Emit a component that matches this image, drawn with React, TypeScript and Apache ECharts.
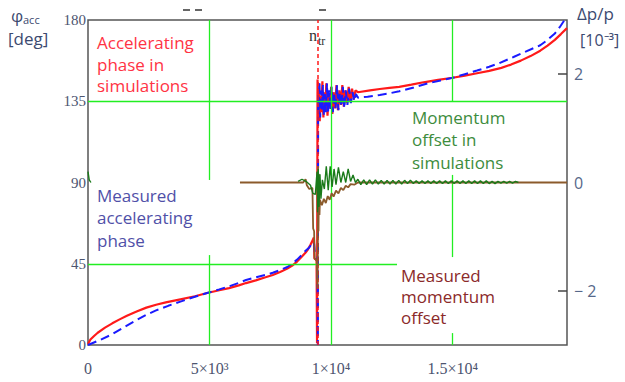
import React, { useEffect, useRef } from "react";
import * as echarts from "echarts";

// ---- data ----
const xTickValues = [0, 5000, 10000, 15000];
const xTickLabels = ["0", "5×10³", "1×10⁴", "1.5×10⁴"];
const phaseTicks = [0, 45, 90, 135, 180];
const dpTickValues = [-2, 0, 2];
const nTr = 9435;

// accelerating phase in simulations [deg]
const simPhase: any[] = [
  [0, 0.5], [100, 3], [250, 5], [400, 6.8], [700, 9.6], [1000, 12], [1300, 14.2], [1600, 16.2],
  [2000, 18.6], [2400, 20.7], [2800, 22.3], [3200, 23.6], [3800, 25.3], [4400, 27], [4900, 28.8],
  [5400, 30.3], [5800, 31.5], [6200, 33], [6500, 34.3], [6900, 35.8], [7300, 37.5], [7600, 38.8],
  [7900, 40.4], [8200, 42.3], [8400, 44], [8600, 46.2], [8800, 49], [8950, 51.2],
  [9050, 53], [9150, 55.5], [9220, 57.5], [9290, 59.5], [9310, 48], [9400, 47], [9420, 1],
  [9440, 147], [9470, 127], [9500, 142], [9530, 124], [9560, 138], [9600, 129], [9640, 146],
  [9680, 126], [9720, 140], [9760, 130], [9800, 145], [9850, 127], [9900, 139], [9950, 131],
  [10000, 143], [10050, 128], [10100, 140], [10160, 131], [10220, 144], [10280, 130], [10340, 141],
  [10400, 133], [10460, 144], [10520, 132], [10580, 141], [10650, 134], [10720, 143], [10790, 135],
  [10860, 142], [10930, 136], [11000, 141], [11100, 140],
  [11600, 141], [12000, 141.8], [12400, 142.4], [12800, 143], [13300, 144.2], [13800, 145.5],
  [14400, 146.8], [15000, 148], [15500, 149.2], [16000, 150.5], [16500, 151.8], [17000, 153.5],
  [17400, 155.3], [17800, 157.5], [18200, 160], [18600, 163], [18900, 165.8], [19200, 169],
  [19450, 172.2], [19700, 175.5],
];

// measured accelerating phase [deg]
const measPhase: any[] = [
  [0, 0], [500, 2.8], [1000, 6], [1500, 10], [2000, 13.8], [2400, 16.7], [2800, 19.2],
  [3300, 21.7], [3800, 24], [4300, 26.3], [4900, 28.8], [5400, 30.8], [5800, 32.5], [6200, 34.4],
  [6500, 36], [6900, 37.5], [7300, 38.8], [7600, 40], [7900, 41.5], [8200, 43.2], [8400, 45],
  [8600, 47.3], [8800, 50], [8950, 52.2], [9100, 54], [9250, 57], [9300, 56], [9330, 51],
  [9440, 49], [9455, 0],
  [9465, 138], [9490, 128], [9520, 146], [9550, 126], [9580, 141], [9620, 130], [9660, 144],
  [9700, 127], [9740, 139], [9780, 129], [9830, 145], [9870, 128], [9920, 141], [9970, 130],
  [10020, 143], [10070, 129], [10120, 140], [10180, 131], [10240, 144], [10300, 130], [10360, 140],
  [10420, 132], [10480, 143], [10540, 131], [10600, 141], [10670, 133], [10740, 142], [10810, 134],
  [10880, 140], [10950, 135], [11020, 139], [11100, 137],
  [11500, 137.5], [12000, 138.5], [12400, 139.4], [12800, 140.5], [13400, 142.6], [14000, 145],
  [14500, 146.5], [15000, 148], [15500, 150], [16000, 152], [16500, 154.1], [16900, 156],
  [17500, 159.5], [18000, 162.5], [18600, 166], [18900, 169], [19200, 172.5], [19400, 176],
  [19600, 180],
];

// momentum offset in simulations [1e-3]
const simOffset: any[] = [
  [0, 0.2], [50, 0.05], [120, 0], [200, "-"],
  [8640, 0.02], [8800, 0.06], [9000, 0.01], [9150, -0.05], [9250, -0.2], [9350, -0.22],
  [9420, 0.2], [9440, -0.55], [9470, 0.25], [9500, -0.45], [9540, 0.15], [9580, -0.3],
  [9640, 0.05], [9720, -0.12], [9800, 0.3], [9880, -0.14], [9960, 0.3], [10040, -0.08],
  [10120, 0.25], [10200, -0.04], [10300, 0.28], [10400, 0.0], [10500, 0.2], [10600, 0.0],
  [10700, 0.25], [10800, 0.02], [10900, 0.14], [11000, 0.0], [11100, 0.06],
  [11220, -0.04], [11340, 0.05], [11460, -0.04], [11580, 0.05], [11700, -0.03], [11820, 0.05],
  [11940, -0.03], [12060, 0.04], [12180, -0.03], [12300, 0.04], [12420, -0.03], [12540, 0.04],
  [12660, -0.03], [12780, 0.04], [12900, -0.03], [13020, 0.04], [13140, -0.02], [13260, 0.04],
  [13380, -0.02], [13500, 0.03], [13620, -0.02], [13740, 0.03], [13860, -0.02], [13980, 0.03],
  [14100, -0.02], [14220, 0.03], [14340, -0.02], [14460, 0.03], [14580, -0.02], [14700, 0.03],
  [14820, -0.02], [14940, 0.03], [15060, -0.02], [15180, 0.03], [15300, -0.02], [15420, 0.03],
  [15540, -0.02], [15660, 0.03], [15780, -0.02], [15900, 0.03], [16020, -0.02], [16140, 0.03],
  [16260, -0.02], [16380, 0.03], [16500, -0.02], [16620, 0.02], [16740, -0.02], [16860, 0.02],
  [16980, -0.01], [17100, 0.02], [17220, -0.01], [17340, 0.02], [17460, -0.01], [17580, 0.02],
  [17700, 0],
];

// measured momentum offset [1e-3]
const measOffset: any[] = [
  [6250, 0], [8850, 0], [8950, 0.06], [9000, -0.05], [9100, -0.12], [9230, -0.1], [9260, -0.85],
  [9300, -0.9], [9320, -1.4], [9410, -1.45], [9440, -1.95], [9460, 0.3], [9480, -0.9], [9500, 0.15],
  [9520, -0.6], [9540, -0.32], [9620, -0.42], [9700, -0.3], [9780, -0.38], [9860, -0.25],
  [9940, -0.32], [10020, -0.2], [10100, -0.26], [10200, -0.15], [10300, -0.2], [10400, -0.1],
  [10500, -0.14], [10600, -0.06], [10700, -0.09], [10800, -0.03], [10950, -0.04], [11100, 0],
  [19700, 0],
];

// green grid segments [[x1,y1],[x2,y2]] in (x, phase) coordinates
const gridSegments = [
  [[0, 135], [19700, 135]],
  [[0, 45], [12709, 45]],
  [[5000, 180], [5000, 91.4]],
  [[5000, 49.8], [5000, 0]],
  [[10000, 180], [10000, 0]],
  [[15000, 180], [15000, 135]],
  [[15000, 94.2], [15000, 48.7]],
  [[15000, 6.6], [15000, 0]],
];

const SANS = "'Open Sans', 'Liberation Sans', Arial, sans-serif";
const SERIF = "'Liberation Serif', 'DejaVu Serif', 'Times New Roman', serif";

function txt(x: number, y: number, text: string, fill: string, size: number, family: string, lh?: number) {
  return {
    type: "text",
    x,
    y,
    z: 10,
    silent: true,
    style: {
      text,
      fill,
      fontSize: size,
      fontFamily: family,
      lineHeight: lh || size + 2,
      verticalAlign: "top",
      align: "left",
    },
  };
}

export default function App() {
  const ref = useRef<HTMLDivElement>(null);
  useEffect(() => {
    if (!ref.current) return;
    const chart = echarts.init(ref.current, null, { renderer: "svg" });
    const option: any = {
      animation: false,
      backgroundColor: "#ffffff",
      grid: {
        left: 88,
        right: 58,
        top: 20,
        bottom: 37,
        show: true,
        borderColor: "#555555",
        borderWidth: 1.5,
        backgroundColor: "transparent",
      },
      xAxis: {
        type: "value",
        min: 0,
        max: 19700,
        axisLine: { show: false },
        axisTick: { show: false },
        splitLine: { show: false },
        axisLabel: {
          customValues: xTickValues,
          showMinLabel: true,
          showMaxLabel: true,
          margin: 15,
          color: "#4d5570",
          fontSize: 16,
          fontFamily: SERIF,
          formatter: (v: number) => {
            const i = xTickValues.indexOf(v);
            return i >= 0 ? xTickLabels[i] : "";
          },
        },
      },
      yAxis: [
        {
          type: "value",
          min: 0,
          max: 180,
          interval: 45,
          position: "left",
          axisLine: { show: false },
          axisTick: { show: false },
          splitLine: { show: false },
          axisLabel: {
            customValues: phaseTicks,
            margin: 2,
            color: "#4d5570",
            fontSize: 15,
            fontFamily: SERIF,
          },
        },
        {
          type: "value",
          min: -3,
          max: 3,
          position: "right",
          axisLine: { show: false },
          axisTick: {
            show: true,
            inside: true,
            length: 9,
            customValues: [-2, 2],
            lineStyle: { color: "#444", width: 1.5 },
          },
          splitLine: { show: false },
          axisLabel: {
            customValues: dpTickValues,
            margin: 7,
            color: "#56688a",
            fontSize: 16,
            fontFamily: SANS,
            formatter: (v: number) => (v < 0 ? "− " + Math.abs(v) : String(v)),
          },
        },
      ],
      series: [
        {
          name: "grid",
          type: "line",
          z: 1,
          data: [[0, "-"]],
          symbol: "none",
          silent: true,
          markLine: {
            silent: true,
            symbol: ["none", "none"],
            label: { show: false },
            lineStyle: { color: "#22ee22", width: 1.3, type: "solid" },
            data: gridSegments.map((s) => [{ coord: s[0] }, { coord: s[1] }]),
          },
        },
        {
          name: "Accelerating phase in simulations",
          type: "line",
          z: 3,
          data: simPhase,
          symbol: "none",
          lineStyle: { color: "#ff1a1a", width: 2.2 },
          markLine: {
            silent: true,
            symbol: ["none", "none"],
            label: { show: false },
            lineStyle: { color: "#ff1a1a", width: 1.5, type: [4, 3] },
            data: [{ xAxis: nTr }],
          },
        },
        {
          name: "Measured accelerating phase",
          type: "line",
          z: 4,
          data: measPhase,
          symbol: "none",
          lineStyle: { color: "#1a1aff", width: 2, type: [9, 5] },
        },
        {
          name: "Measured momentum offset",
          type: "line",
          z: 5,
          yAxisIndex: 1,
          data: measOffset,
          symbol: "none",
          lineStyle: { color: "#8b5a2b", width: 1.8 },
        },
        {
          name: "Momentum offset in simulations",
          type: "line",
          z: 6,
          yAxisIndex: 1,
          data: simOffset,
          symbol: "none",
          connectNulls: false,
          lineStyle: { color: "#1a7a1a", width: 1.4 },
        },
      ],
      graphic: [
        txt(11, 6, "φ", "#3c4a70", 17, SANS),
        txt(23, 13, "acc", "#3c4a70", 11, SANS),
        txt(8, 29, "[deg]", "#3c4a70", 17, SANS),
        txt(577, 4, "Δp/p", "#3c4a70", 17, SANS),
        txt(580, 31, "[10⁻³]", "#3c4a70", 16, SANS),
        txt(309, 26, "n", "#333333", 16, SERIF),
        txt(318, 34, "tr", "#333333", 12, SERIF),
        txt(97, 32, "Accelerating\nphase in\nsimulations", "#ff3344", 17, SANS, 21.5),
        txt(97, 184, "Measured\naccelerating\nphase", "#5050a8", 17, SANS, 22.5),
        txt(412, 106, "Momentum\noffset in\nsimulations", "#3d8c3d", 17, SANS, 22.5),
        txt(401, 265, "Measured\nmomentum\noffset", "#8b2a2a", 17, SANS, 21),
        { type: "line", z: 10, silent: true, shape: { x1: 183, y1: 10, x2: 190, y2: 10 }, style: { stroke: "#333", lineWidth: 1.5 } },
        { type: "line", z: 10, silent: true, shape: { x1: 195, y1: 10, x2: 202, y2: 10 }, style: { stroke: "#333", lineWidth: 1.5 } },
        { type: "line", z: 10, silent: true, shape: { x1: 319, y1: 10, x2: 326, y2: 10 }, style: { stroke: "#333", lineWidth: 1.5 } },
      ],
    };
    chart.setOption(option);
    return () => chart.dispose();
  }, []);
  return (
    <div
      ref={ref}
      style={{ position: "absolute", left: 0, top: 0, width: 625, height: 382 }}
    />
  );
}
